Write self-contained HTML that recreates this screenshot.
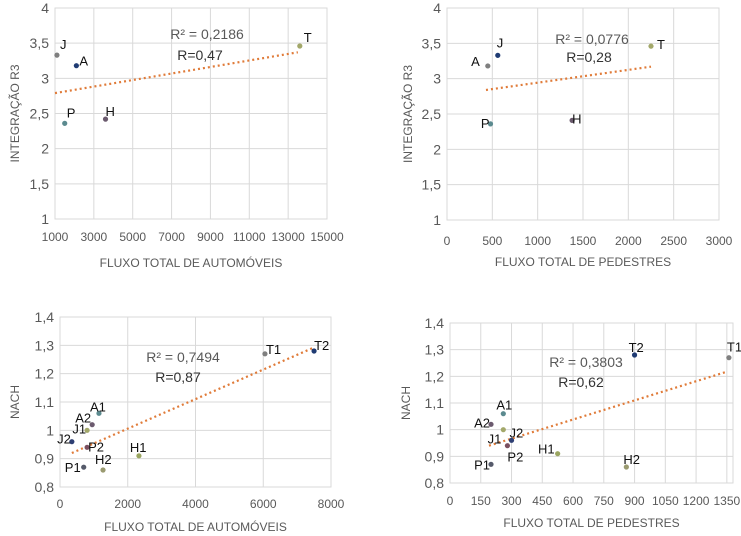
<!DOCTYPE html>
<html><head><meta charset="utf-8">
<style>
html,body{margin:0;padding:0;background:#fff;}
svg{display:block;font-family:"Liberation Sans",sans-serif;}
</style></head>
<body>
<svg id="root" width="741" height="536" viewBox="0 0 741 536"></svg>
<script>
// Chart 1: Integração R3 vs fluxo automóveis
const c1Labels = ["J","A","P","H","T"];
const c1X = [1100,2100,1500,3600,13600];
const c1Y = [3.33,3.18,2.36,2.42,3.46];
const c1Trend = [[1000,2.79],[13500,3.37]];
const c1XTicks = [1000,3000,5000,7000,9000,11000,13000,15000];
const c1YTicks = [1,1.5,2,2.5,3,3.5,4];
// Chart 2: Integração R3 vs fluxo pedestres
const c2Labels = ["A","J","P","H","T"];
const c2X = [450,560,480,1380,2250];
const c2Y = [3.18,3.33,2.36,2.41,3.46];
const c2Trend = [[430,2.84],[2250,3.17]];
const c2XTicks = [0,500,1000,1500,2000,2500,3000];
const c2YTicks = [1,1.5,2,2.5,3,3.5,4];
// Chart 3: NACH vs fluxo automóveis
const c3Labels = ["T1","T2","A1","A2","J1","J2","P2","H1","P1","H2"];
const c3X = [6050,7500,1150,950,800,350,800,2330,700,1270];
const c3Y = [1.27,1.28,1.06,1.02,1.0,0.96,0.94,0.91,0.87,0.86];
const c3Trend = [[350,0.92],[7450,1.29]];
const c3XTicks = [0,2000,4000,6000,8000];
const c3YTicks = [0.8,0.9,1,1.1,1.2,1.3,1.4];
// Chart 4: NACH vs fluxo pedestres
const c4Labels = ["T1","T2","A1","A2","J1","J2","P2","H1","P1","H2"];
const c4X = [1360,900,260,200,260,300,280,525,200,860];
const c4Y = [1.27,1.28,1.06,1.02,1.0,0.96,0.94,0.91,0.87,0.86];
const c4Trend = [[190,0.94],[1340,1.215]];
const c4XTicks = [0,150,300,450,600,750,900,1050,1200,1350];
const c4YTicks = [0.8,0.9,1,1.1,1.2,1.3,1.4];

const NS="http://www.w3.org/2000/svg";
const root=document.getElementById('root');
const colors=["#7f7f7f","#1f3b73","#5b8a8f","#6b5a6e","#a3a86a","#2e3f73","#7a5060","#9aa560","#555a6a","#9a9a70"];
function mk(tag,attrs,parent){const e=document.createElementNS(NS,tag);for(const k in attrs)e.setAttribute(k,attrs[k]);parent.appendChild(e);return e;}
function fmt(v){return String(v).replace('.',',');}

function chart(cfg){
  const g=mk('g',{},root);
  
  
  const sx=v=>cfg.x0+(v-cfg.xmin)/(cfg.xmax-cfg.xmin)*(cfg.x1-cfg.x0);
  const sy=v=>cfg.y0-(v-cfg.ymin)/(cfg.ymax-cfg.ymin)*(cfg.y0-cfg.y1);
  cfg.yTicks.forEach(t=>{
    const l=mk('line',{x1:cfg.x0,x2:cfg.x1,y1:sy(t),y2:sy(t),stroke:'#d9d9d9','stroke-width':1},g);
    
    
    const tx=mk('text',{x:cfg.x0-6,y:sy(t)+5,'text-anchor':'end','font-size':14,fill:'#595959'},g);
    tx.textContent=fmt(t);
    
    
  });
  cfg.xTicks.forEach(t=>{
    const l=mk('line',{x1:sx(t),x2:sx(t),y1:cfg.y1,y2:cfg.y0,stroke:'#d9d9d9','stroke-width':1},g);
    
    
    const tx=mk('text',{x:sx(t),y:cfg.xLabY,'text-anchor':'middle','font-size':12,fill:'#595959'},g);
    tx.textContent=t;
    
    
  });
  const fr=mk('rect',{x:cfg.x0,y:cfg.y1,width:cfg.x1-cfg.x0,height:cfg.y0-cfg.y1,fill:'none',stroke:'#d9d9d9'},g);
  
  
  const tr=mk('line',{x1:sx(cfg.trend[0][0]),y1:sy(cfg.trend[0][1]),x2:sx(cfg.trend[1][0]),y2:sy(cfg.trend[1][1]),stroke:'#e07b39','stroke-width':2.2,'stroke-dasharray':'2 3'},g);
  
  
  cfg.xs.forEach((xv,i)=>{
    const c=mk('circle',{cx:sx(xv),cy:sy(cfg.ys[i]),r:2.6,fill:colors[i%colors.length]},g);
    
    
    const o=cfg.off[i];
    const t=mk('text',{x:sx(xv)+o[0],y:sy(cfg.ys[i])+o[1],'font-size':13,fill:'#111','text-anchor':o[2]||'start'},g);
    t.textContent=cfg.labels[i];
    
    
  });
  const r2=mk('text',{x:cfg.r2[0],y:cfg.r2[1],'text-anchor':'middle','font-size':14,fill:'#595959'},g);
  r2.textContent=cfg.r2[2];
  
  
  const rr=mk('text',{x:cfg.r[0],y:cfg.r[1],'text-anchor':'middle','font-size':14,fill:'#333'},g);
  rr.textContent=cfg.r[2];
  
  
  const xt=mk('text',{x:(cfg.x0+cfg.x1)/2,y:cfg.xTitleY,'text-anchor':'middle','font-size':12,fill:'#595959'},g);
  xt.textContent=cfg.xTitle;
  
  
  const cy=(cfg.y0+cfg.y1)/2;
  const yt=mk('text',{x:cfg.yTitleX,y:cy,'text-anchor':'middle','font-size':12,fill:'#595959',transform:`rotate(-90 ${cfg.yTitleX} ${cy})`},g);
  yt.textContent=cfg.yTitle;
  
  
}

chart({name:'chart-r3-automoveis',x0:55,x1:327,y0:219,y1:8,xmin:1000,xmax:15000,ymin:1,ymax:4,
  xTicks:c1XTicks,yTicks:c1YTicks,xs:c1X,ys:c1Y,labels:c1Labels,trend:c1Trend,xLabY:241,xTitleY:267,yTitleX:19,
  xTitle:'FLUXO TOTAL DE AUTOMÓVEIS',yTitle:'INTEGRAÇÃO R3',r2:[207,39,'R² = 0,2186'],r:[200,60,'R=0,47'],
  off:[[3,-6],[3,0],[2,-6],[0,-3],[4,-4]]});
chart({name:'chart-r3-pedestres',x0:447,x1:719,y0:220,y1:8,xmin:0,xmax:3000,ymin:1,ymax:4,
  xTicks:c2XTicks,yTicks:c2YTicks,xs:c2X,ys:c2Y,labels:c2Labels,trend:c2Trend,xLabY:245,xTitleY:266,yTitleX:412,
  xTitle:'FLUXO TOTAL DE PEDESTRES',yTitle:'INTEGRAÇÃO R3',r2:[592,44,'R² = 0,0776'],r:[589,62,'R=0,28'],
  off:[[-8,0,'end'],[-1,-8],[-1,4,'end'],[0,3],[6,3]]});
chart({name:'chart-nach-automoveis',x0:60,x1:331,y0:487,y1:317,xmin:0,xmax:8000,ymin:0.8,ymax:1.4,
  xTicks:c3XTicks,yTicks:c3YTicks,xs:c3X,ys:c3Y,labels:c3Labels,trend:c3Trend,xLabY:508,xTitleY:531,yTitleX:19,
  xTitle:'FLUXO TOTAL DE AUTOMÓVEIS',yTitle:'NACH',r2:[183,362,'R² = 0,7494'],r:[178,382,'R=0,87'],
  off:[[1,0],[0,-1],[-1,-2,'middle'],[-1,-2,'end'],[-1,3,'end'],[-1,2,'end'],[1,4],[-9,-4],[-3,5,'end'],[-8,-6]]});
chart({name:'chart-nach-pedestres',x0:450,x1:733,y0:483,y1:323,xmin:0,xmax:1380,ymin:0.8,ymax:1.4,
  xTicks:c4XTicks,yTicks:c4YTicks,xs:c4X,ys:c4Y,labels:c4Labels,trend:c4Trend,xLabY:505,xTitleY:527,yTitleX:410,
  xTitle:'FLUXO TOTAL DE PEDESTRES',yTitle:'NACH',r2:[586,367,'R² = 0,3803'],r:[581,387,'R=0,62'],
  off:[[-2,-6],[-6,-3],[-7,-4],[-1,3,'end'],[-2,14,'end'],[-2,-3],[0,16],[-3,0,'end'],[-1,5,'end'],[-3,-3]]});
</script>
</body></html>
